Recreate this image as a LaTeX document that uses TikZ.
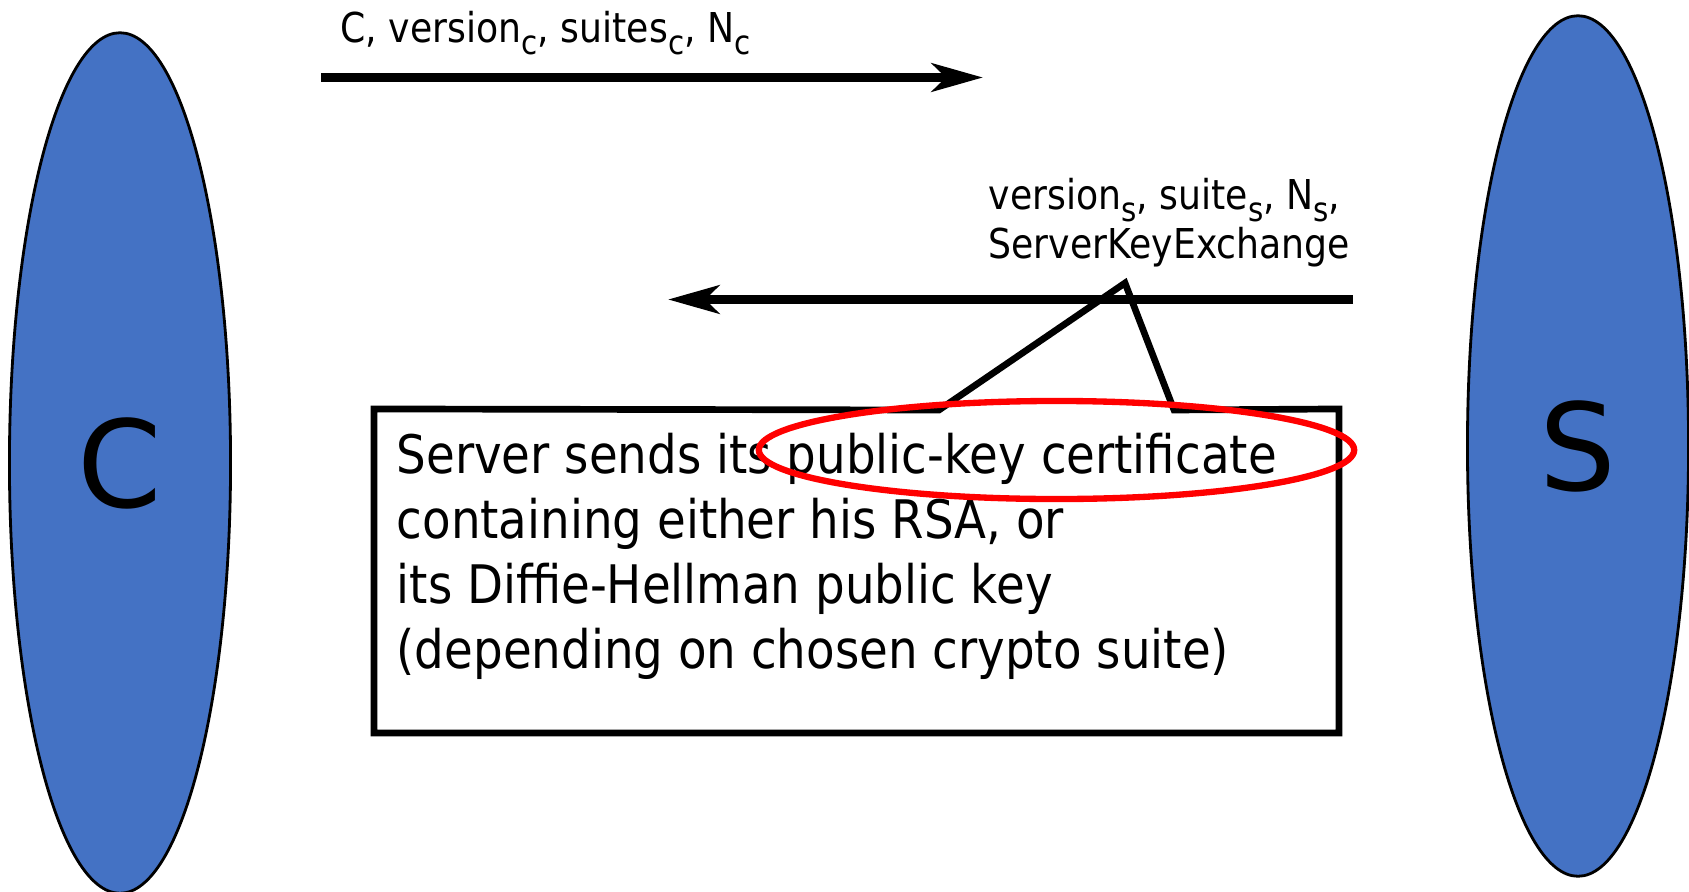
\documentclass[tikz,border=0pt]{standalone}
\usepackage{fontspec}
\setmainfont{DejaVu Sans}
\newfontfamily\slimfont[FakeStretch=0.88]{DejaVu Sans}
\usetikzlibrary{arrows.meta,shapes.geometric,positioning}
\definecolor{partyblue}{RGB}{68,114,196}
\newcommand\lowsub[1]{\raisebox{-0.5ex}{\fontsize{9.5}{10}\selectfont #1}}

\begin{document}
\begin{tikzpicture}[x=0.01cm,y=-0.01cm,
		party/.style={ellipse,draw,line width=0.8pt,fill=partyblue,inner sep=0pt,
			minimum width=2.21cm,minimum height=8.6cm,font=\fontsize{34.4}{40}\selectfont},
		msg/.style={line width=2.65pt,-{Stealth[length=14.5pt,width=8pt,inset=4pt]}},
		msglabel/.style={anchor=base west,inner sep=0pt,align=left,
			font=\slimfont\fontsize{11.7}{13.8}\selectfont},
		notebox/.style={rectangle,inner sep=0pt,minimum width=9.63cm,minimum height=3.225cm},
		notetext/.style={anchor=base west,inner sep=0pt,align=left,
			font=\slimfont\fontsize{15.1}{18.4}\selectfont},
		highlight/.style={ellipse,draw=red,line width=1.8pt,inner sep=0pt,
			minimum width=5.95cm,minimum height=0.98cm}]
		\useasboundingbox (0,0) rectangle (1689,891);
		\draw
			(120,463) node [party] (c) {C}
			(1578,446) node [party] (s) {S}
			;
		% messages
		\coordinate (hello from) at (321,77.5);
		\coordinate (hello to) at (983,77.5);
		\coordinate (reply from) at (1353,299.5);
		\coordinate (reply to) at (668,299.5);
		\node [msglabel] (hello) at (340,43) {C, version\lowsub{c}, suites\lowsub{c}, N\lowsub{c}};
		\node [msglabel] (reply) at (988,258.5) {version\lowsub{s}, suite\lowsub{s}, N\lowsub{s},\\ServerKeyExchange};
		% callout
		\node [notebox] (note) at (856.5,571) {};
		\coordinate (apex) at (1125,283);
		\coordinate (foot l) at (939,410);
		\coordinate (foot r) at (1174,410);
		\draw [line width=1.9pt,line join=miter]
			(note.north west) -- (foot l) -- (apex) -- (foot r) -- (note.north east)
			-- (note.south east) -- (note.south west) -- cycle;
		\node [notetext] (notetxt) at (396,668) {Server sends its public-key certificate\\containing either his RSA, or\\its Diffie-Hellman public key\\(depending on chosen crypto suite)};
		\draw [msg] (hello from) -- (hello to);
		\draw [msg] (reply from) -- (reply to);
		\node [highlight] (cert) at (1056.5,450) {};
	\end{tikzpicture}
\end{document}
